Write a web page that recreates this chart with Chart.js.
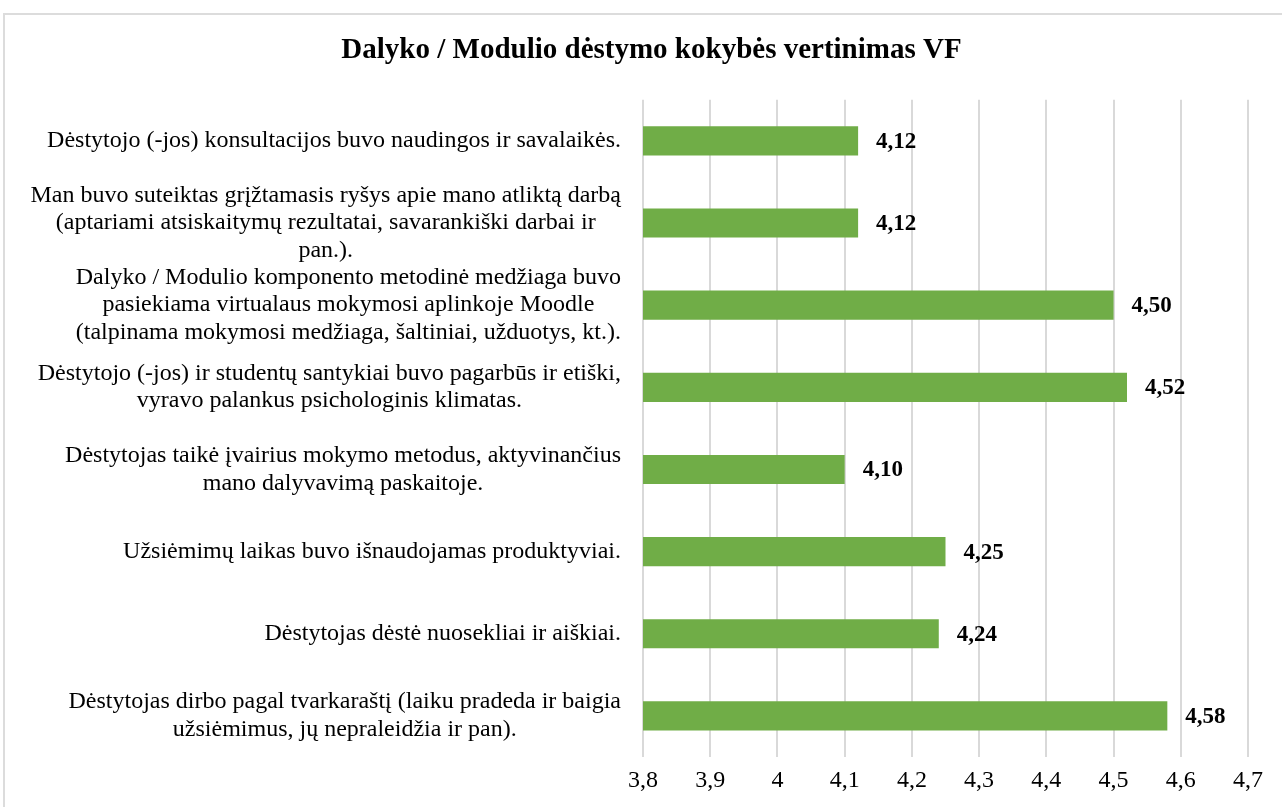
<!DOCTYPE html>
<html>
<head>
<meta charset="utf-8">
<script src="https://cdn.jsdelivr.net/npm/chart.js@4.4.1/dist/chart.umd.min.js"></script>
<style>
    body{margin:0;background:#fff;overflow:hidden;}
    #wrap{position:relative;width:1282px;height:807px;}
    #frame{position:absolute;left:3px;top:13px;width:1300px;height:820px;border-left:2px solid #dcdcdc;border-top:2px solid #dcdcdc;}
    canvas{position:absolute;left:0;top:0;}
</style>
</head>
<body>
<div id="wrap">
    <div id="frame"></div>
    <canvas id="chart" width="1282" height="807"></canvas>
</div>
<script>
const chartTitle = 'Dalyko / Modulio dėstymo kokybės vertinimas VF';

const categories = [
    ['Dėstytojo (-jos) konsultacijos buvo naudingos ir savalaikės.'],
    ['Man buvo suteiktas grįžtamasis ryšys apie mano atliktą darbą', '(aptariami atsiskaitymų rezultatai, savarankiški darbai ir', 'pan.).'],
    ['Dalyko / Modulio komponento metodinė medžiaga buvo', 'pasiekiama virtualaus mokymosi aplinkoje Moodle', '(talpinama mokymosi medžiaga, šaltiniai, užduotys, kt.).'],
    ['Dėstytojo (-jos) ir studentų santykiai buvo pagarbūs ir etiški,', 'vyravo palankus psichologinis klimatas.'],
    ['Dėstytojas taikė įvairius mokymo metodus, aktyvinančius', 'mano dalyvavimą paskaitoje.'],
    ['Užsiėmimų laikas buvo išnaudojamas produktyviai.'],
    ['Dėstytojas dėstė nuosekliai ir aiškiai.'],
    ['Dėstytojas dirbo pagal tvarkaraštį (laiku pradeda ir baigia', 'užsiėmimus, jų nepraleidžia ir pan).']
];

const values = [4.12, 4.12, 4.50, 4.52, 4.10, 4.25, 4.24, 4.58];

const axisMin = 3.8;
const axisMax = 4.7;
const axisStep = 0.1;

const serif = '"Liberation Serif", "Times New Roman", serif';

function fmt(v, digits){
    return v.toFixed(digits).replace('.', ',');
}

// category labels: block right aligned, lines centered inside the block
const categoryLabels = {
    id: 'categoryLabels',
    afterDraw(chart){
        const ctx = chart.ctx;
        const yScale = chart.scales.y;
        const right = 621;
        const lineH = 27.5;
        ctx.save();
        ctx.font = '24px ' + serif;
        ctx.fillStyle = '#000';
        ctx.textAlign = 'center';
        ctx.textBaseline = 'middle';
        categories.forEach((lines, i) => {
            const maxW = Math.max(...lines.map(l => ctx.measureText(l).width));
            const cx = right - maxW / 2;
            const cy = yScale.getPixelForTick(i);
            const top = cy - (lines.length - 1) * lineH / 2;
            lines.forEach((l, j) => ctx.fillText(l, cx, top + j * lineH));
        });
        ctx.restore();
    }
};

// value labels after the end of each bar
const valueLabels = {
    id: 'valueLabels',
    afterDatasetsDraw(chart){
        const ctx = chart.ctx;
        const meta = chart.getDatasetMeta(0);
        ctx.save();
        ctx.font = 'bold 23px ' + serif;
        ctx.fillStyle = '#000';
        ctx.textAlign = 'left';
        ctx.textBaseline = 'middle';
        meta.data.forEach((bar, i) => {
            ctx.fillText(fmt(values[i], 2), bar.x + 18, bar.y + 1);
        });
        ctx.restore();
    }
};

const ctx = document.getElementById('chart').getContext('2d');

new Chart(ctx, {
    type: 'bar',
    data: {
        labels: categories,
        datasets: [{
            data: values,
            backgroundColor: '#70ad47',
            borderWidth: 0,
            barPercentage: 0.355,
            categoryPercentage: 1
        }]
    },
    options: {
        indexAxis: 'y',
        responsive: false,
        animation: false,
        layout: {padding: {left: 55, right: 34, top: 0, bottom: 0}},
        plugins: {
            legend: {display: false},
            tooltip: {enabled: false},
            title: {
                display: true,
                text: chartTitle,
                color: '#000',
                font: {family: serif, size: 29, weight: 'bold', lineHeight: 1.2},
                padding: {top: 33, bottom: 32}
            }
        },
        scales: {
            x: {
                min: axisMin,
                max: axisMax,
                afterFit(scale){ scale.height = 50; },
                afterBuildTicks(scale){
                    const ticks = [];
                    const n = Math.round((axisMax - axisMin) / axisStep);
                    for(let i = 0; i <= n; i++) ticks.push({value: +(axisMin + i * axisStep).toFixed(1)});
                    scale.ticks = ticks;
                },
                border: {display: false},
                grid: {color: '#d9d9d9', lineWidth: 2, drawTicks: false},
                ticks: {
                    padding: 9,
                    color: '#000',
                    font: {family: serif, size: 24},
                    callback: (v) => {
                        const s = Number(v).toFixed(1);
                        return (s.endsWith('.0') ? s.slice(0, -2) : s).replace('.', ',');
                    }
                }
            },
            y: {
                afterFit(scale){ scale.width = 643 - 55; },
                border: {display: false},
                grid: {display: false},
                ticks: {display: false}
            }
        }
    },
    plugins: [categoryLabels, valueLabels]
});
</script>
</body>
</html>
